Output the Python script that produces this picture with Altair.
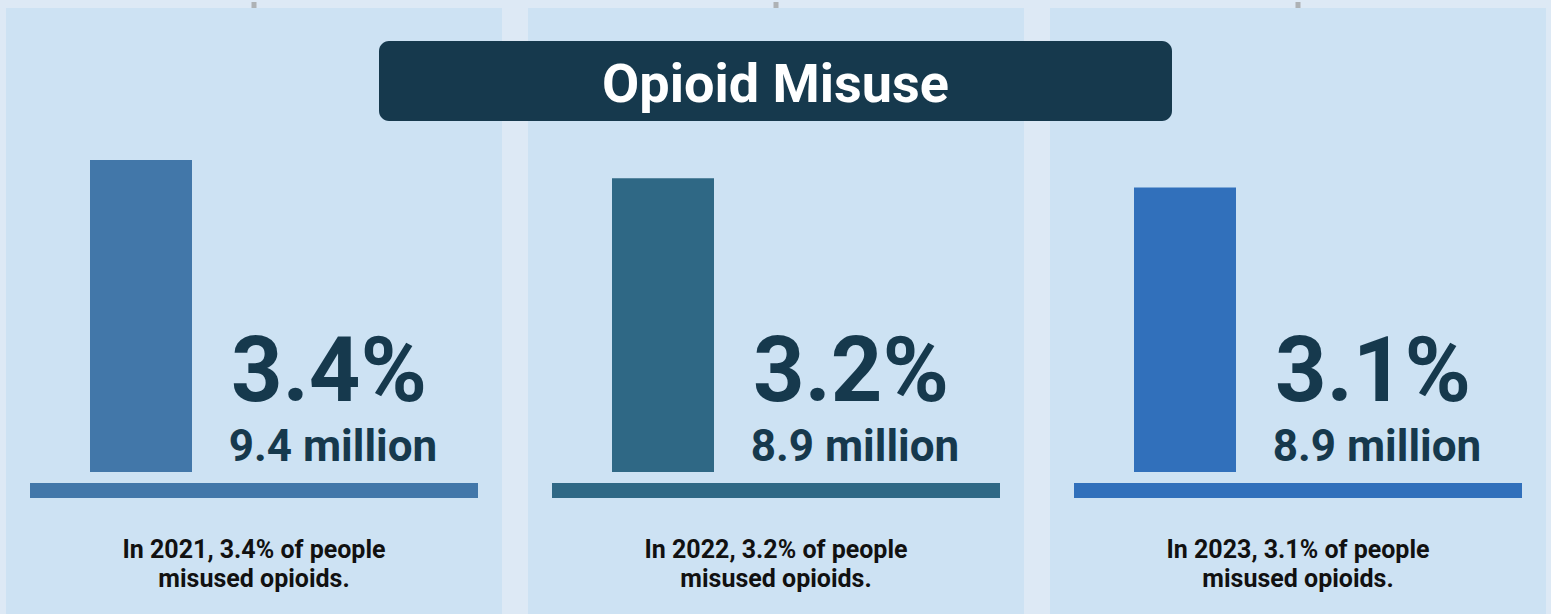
import altair as alt
import pandas as pd

# ---- data ----
years = ["2021", "2022", "2023"]
pct = [3.4, 3.2, 3.1]
millions = [9.4, 8.9, 8.9]
bar_colors = ["#4277a9", "#2f6885", "#3170bb"]
title_text = "Opioid Misuse"

df = pd.DataFrame({
    "idx": list(range(len(years))),
    "year": years,
    "pct": pct,
    "millions": millions,
    "color": bar_colors,
})
df["pct_label"] = [f"{p:.1f}%" for p in pct]
df["mil_label"] = [f"{m:.1f} million" for m in millions]
df["caption"] = [f"In {y}, {p:.1f}% of people\nmisused opioids." for y, p in zip(years, pct)]

W, H = 1551, 614
STEP = 522.0
FONT = "Roboto, 'Liberation Sans', sans-serif"
NAVY = "#16394d"
PANEL = "#cde2f3"
PAGE = "#dde9f5"

xs = alt.Scale(domain=[0, 3], range=[6, 6 + 3 * STEP])

base = alt.Chart(df).transform_calculate(
    p0="datum.idx",
    p1=f"datum.idx + {496 / STEP}",
    b0=f"datum.idx + {84 / STEP}",
    b1=f"datum.idx + {186 / STEP}",
    l0=f"datum.idx + {24 / STEP}",
    l1=f"datum.idx + {472 / STEP}",
    tpct=f"datum.idx + {323 / STEP}",
    tmil=f"datum.idx + {327 / STEP}",
    tcap=f"datum.idx + {248 / STEP}",
)

panels = base.mark_rect(color=PANEL).encode(
    x=alt.X("p0:Q", scale=xs, axis=None),
    x2="p1:Q",
    y=alt.value(8),
    y2=alt.value(H),
)

ticks = base.mark_tick(color="#9a9a9a", orient="vertical", thickness=5).encode(
    x=alt.X("tcap:Q", scale=xs, axis=None),
    y=alt.value(5),
    size=alt.value(6),
)

bars = base.mark_bar().encode(
    x=alt.X("b0:Q", scale=xs, axis=None),
    x2="b1:Q",
    y=alt.Y("pct:Q", scale=alt.Scale(domain=[0, 3.4], range=[472, 160]), axis=None),
    y2=alt.Y2(datum=0),
    color=alt.Color("color:N", scale=None, legend=None),
)

baselines = base.mark_rect().encode(
    x=alt.X("l0:Q", scale=xs, axis=None),
    x2="l1:Q",
    y=alt.value(483),
    y2=alt.value(498),
    color=alt.Color("color:N", scale=None, legend=None),
)

pct_text = base.mark_text(
    font=FONT, fontSize=90, fontWeight="bold", color=NAVY,
    align="center", baseline="alphabetic",
).encode(
    x=alt.X("tpct:Q", scale=xs, axis=None),
    y=alt.value(401),
    text="pct_label:N",
)

mil_text = base.mark_text(
    font=FONT, fontSize=44, fontWeight="bold", color=NAVY,
    align="center", baseline="alphabetic",
).encode(
    x=alt.X("tmil:Q", scale=xs, axis=None),
    y=alt.value(461),
    text="mil_label:N",
)

cap_text = base.mark_text(
    font=FONT, fontSize=25, fontWeight="bold", color="#111111",
    align="center", baseline="alphabetic", lineBreak="\n", lineHeight=29,
).encode(
    x=alt.X("tcap:Q", scale=xs, axis=None),
    y=alt.value(558),
    text="caption:N",
)

title_df = pd.DataFrame({"title": [title_text]})
title_box = alt.Chart(title_df).mark_rect(color=NAVY, cornerRadius=10).encode(
    x=alt.value(379), x2=alt.value(1172), y=alt.value(41), y2=alt.value(121),
)
title_lbl = alt.Chart(title_df).mark_text(
    font=FONT, fontSize=54, fontWeight="bold", color="white",
    align="center", baseline="alphabetic",
).encode(
    x=alt.value(775.5), y=alt.value(102), text="title:N",
)

chart = alt.layer(
    panels, ticks, bars, baselines, pct_text, mil_text, cap_text, title_box, title_lbl
).properties(
    width=W, height=H, padding=0, background=PAGE,
    autosize=alt.AutoSizeParams(type="none"),
).configure_view(stroke=None)

chart.save("out.html", embed_options={"renderer": "svg", "actions": False})
